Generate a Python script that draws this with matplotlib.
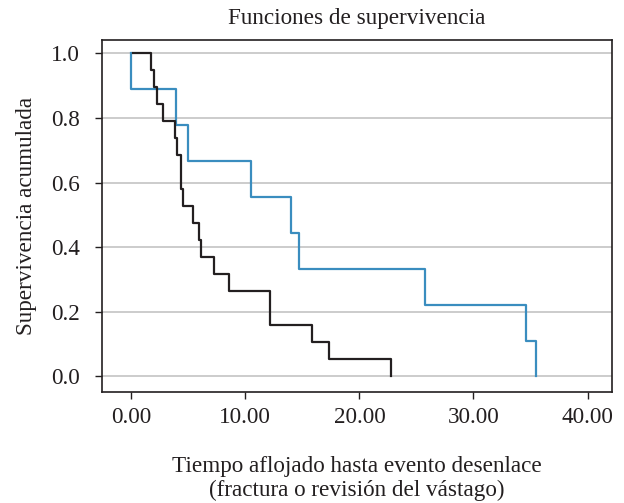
import matplotlib
matplotlib.use("Agg")
import matplotlib.pyplot as plt
import numpy as np

# Kaplan-Meier steps (time, cumulative survival)
black_times = [0.18, 1.73, 2.02, 2.28, 2.75, 3.83, 4.04, 4.33, 4.56, 5.44,
               5.94, 6.11, 7.25, 8.60, 12.17, 15.88, 17.37, 22.75]
black_surv = [1.0, 18/19, 17/19, 16/19, 15/19, 14/19, 13/19, 11/19, 10/19, 9/19,
              8/19, 7/19, 6/19, 5/19, 3/19, 2/19, 1/19, 0.0]

blue_times = [0.0, 0.0, 3.92, 5.00, 10.50, 13.98, 14.74, 25.76, 34.60, 35.48]
blue_surv = [1.0, 8/9, 7/9, 6/9, 5/9, 4/9, 3/9, 2/9, 1/9, 0.0]

x_ticks = [0, 10, 20, 30, 40]
y_ticks = [0.0, 0.2, 0.4, 0.6, 0.8, 1.0]

plt.rcParams['font.family'] = ['Liberation Serif', 'DejaVu Serif']
fs = 16.7
ink = '#231f20'

fig = plt.figure(figsize=(6.24, 5.03), dpi=100)
ax = fig.add_axes([0.1635, 0.2207, 0.8173, 0.6998])

ax.step(blue_times, blue_surv, where='post', color='#3a8dbf', lw=1.6)
ax.step(black_times, black_surv, where='post', color=ink, lw=1.6)

ax.set_xlim(-2.57, 42.15)
ax.set_ylim(-0.048, 1.041)
ax.set_xticks(x_ticks)
ax.set_xticklabels([f"{v:.2f}" for v in x_ticks])
ax.set_yticks(y_ticks)
ax.set_yticklabels([f"{v:.1f}" for v in y_ticks])
ax.yaxis.grid(True, color='#c4c4c4', lw=1.2)
ax.set_axisbelow(True)
ax.tick_params(labelsize=fs, length=5, width=1, color=ink, labelcolor=ink)
ax.tick_params(axis='y', pad=11)
ax.tick_params(axis='x', pad=6)
for s in ax.spines.values():
    s.set_color(ink)
    s.set_linewidth(1.2)

ax.set_title("Funciones de supervivencia", fontsize=fs, color=ink, pad=11.5)
ax.set_ylabel("Supervivencia acumulada", fontsize=fs, color=ink, labelpad=10)
ax.set_xlabel("Tiempo aflojado hasta evento desenlace\n(fractura o revisión del vástago)",
              fontsize=fs, color=ink, labelpad=20, linespacing=1.2)

fig.savefig("out.png", dpi=100)
